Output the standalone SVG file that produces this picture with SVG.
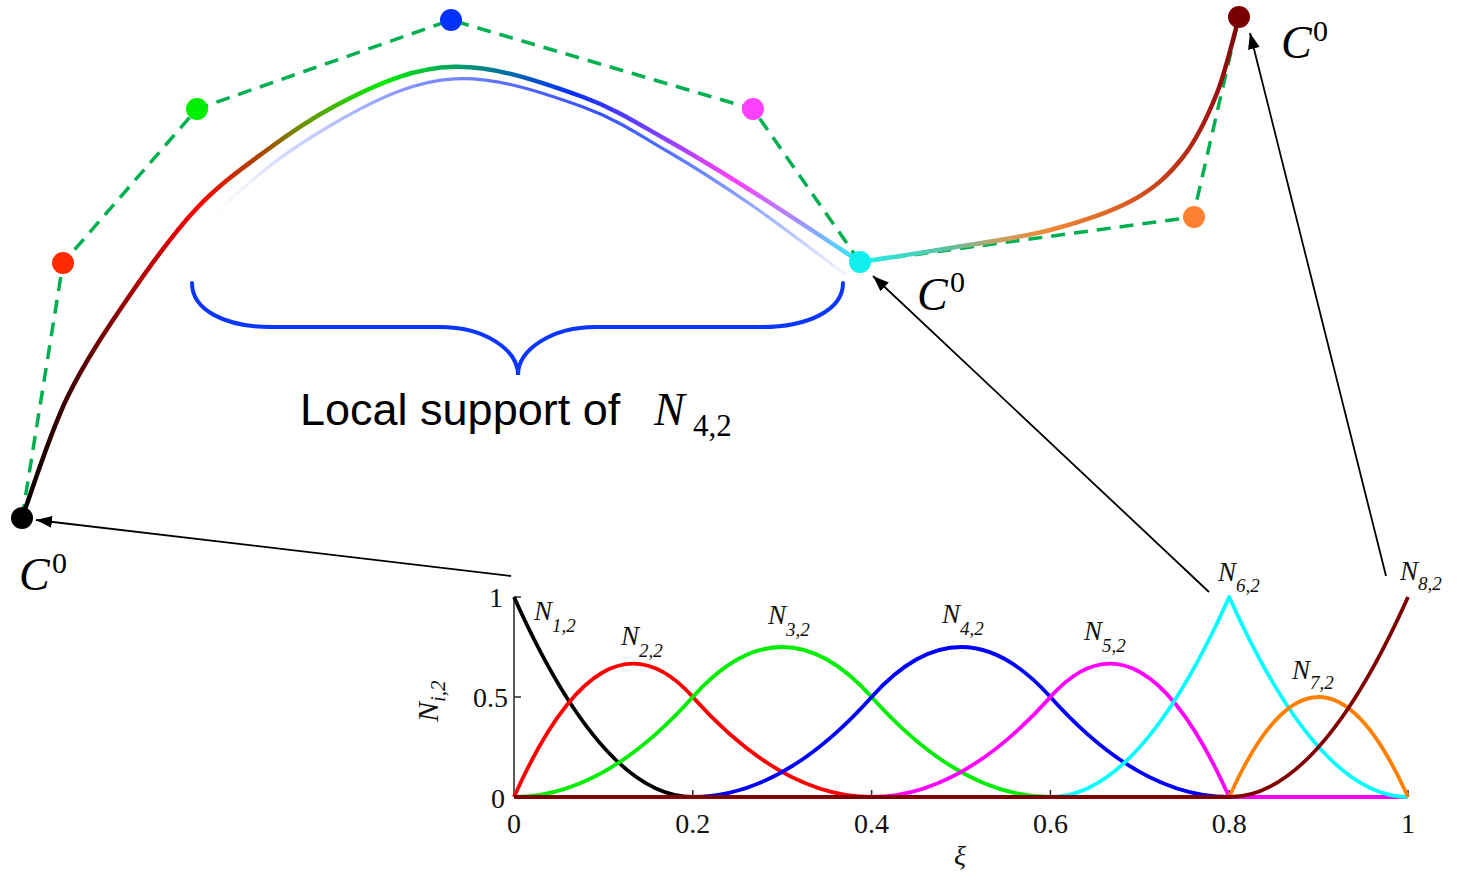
<svg xmlns="http://www.w3.org/2000/svg" width="1460" height="874" viewBox="0 0 1460 874">
<style>
.poly{fill:none;stroke:#00b050;stroke-width:3.5;stroke-dasharray:14 9}
.bf{fill:none;stroke-width:3.8;stroke-linejoin:round}
.arrow{fill:none;stroke:#000;stroke-width:1.8;marker-end:url(#ah)}
.it{font-style:italic}
.c0{font-family:"Liberation Serif","DejaVu Serif",serif;font-style:italic;font-size:46px;fill:#000}
.c0s{font-family:"Liberation Serif","DejaVu Serif",serif;font-size:30px;fill:#000}
.nl{font-family:"Liberation Serif","Times New Roman",serif;font-style:italic;font-size:27px;fill:#111}
.ns{font-size:19px}
.tick{font-family:"Liberation Serif","Times New Roman",serif;font-size:28px;fill:#111}
</style>
<defs>
<marker id="ah" viewBox="0 0 16 12" refX="16" refY="6" markerWidth="16" markerHeight="12" orient="auto" markerUnits="userSpaceOnUse">
<path d="M0,0 L16,6 L0,12 z" fill="#000"/>
</marker>
<linearGradient id="g1" gradientUnits="userSpaceOnUse" x1="22" y1="0" x2="860" y2="0">
<stop offset="0" stop-color="#000000"/>
<stop offset="0.054" stop-color="#400000"/>
<stop offset="0.129" stop-color="#a00000"/>
<stop offset="0.209" stop-color="#ff0000"/>
<stop offset="0.292" stop-color="#a05000"/>
<stop offset="0.332" stop-color="#709000"/>
<stop offset="0.431" stop-color="#00ee00"/>
<stop offset="0.499" stop-color="#00b050"/>
<stop offset="0.562" stop-color="#007a90"/>
<stop offset="0.654" stop-color="#0030ff"/>
<stop offset="0.758" stop-color="#8040ff"/>
<stop offset="0.848" stop-color="#ff40ff"/>
<stop offset="0.928" stop-color="#a090ff"/>
<stop offset="0.968" stop-color="#60c8ff"/>
<stop offset="1" stop-color="#20f0f0"/>
</linearGradient>
<linearGradient id="g2" gradientUnits="userSpaceOnUse" x1="195" y1="0" x2="845" y2="0">
<stop offset="0" stop-color="#ffffff" stop-opacity="0"/>
<stop offset="0.111" stop-color="#dde3ff"/>
<stop offset="0.212" stop-color="#b8c2ff"/>
<stop offset="0.315" stop-color="#8a98ff"/>
<stop offset="0.418" stop-color="#6f80ff"/>
<stop offset="0.531" stop-color="#4a60ff"/>
<stop offset="0.623" stop-color="#3550ff"/>
<stop offset="0.726" stop-color="#5570ff"/>
<stop offset="0.854" stop-color="#8fa5ff"/>
<stop offset="1" stop-color="#f2f4ff"/>
</linearGradient>
<linearGradient id="g3" gradientUnits="userSpaceOnUse" x1="860" y1="0" x2="1239" y2="0">
<stop offset="0" stop-color="#20f0f0"/>
<stop offset="0.237" stop-color="#60c0a0"/>
<stop offset="0.369" stop-color="#c8a060"/>
<stop offset="0.501" stop-color="#f08838"/>
<stop offset="0.72" stop-color="#d85820"/>
<stop offset="0.852" stop-color="#b83015"/>
<stop offset="0.942" stop-color="#a01010"/>
<stop offset="1" stop-color="#7a0a0a"/>
</linearGradient>
</defs>
<rect width="1460" height="874" fill="#fff"/>

<g id="control-polygon">
<polyline class="poly" points="22,518 63,263 197,109 451,20 753,109 860,262 1193,217 1239,17"/>
</g>

<g id="support-curve">
<path d="M195,232 C207,221.3 244,186 267,168 C290,150 310.8,136.8 333,124 C433,66 473,67.4 583,107 C616.3,119 639.2,134.8 667,151 C694.8,167.2 720.3,183.5 750,204 C779.7,224.5 829.2,262.3 845,274" fill="none" stroke="url(#g2)" stroke-width="3.2" stroke-linecap="round"/>
</g>

<g id="spline-curve">
<path d="M22,518 C29.5,498 49,435.2 67,398 C85,360.8 108.3,326.7 130,295 C151.7,263.3 174.2,232.2 197,208 C219.8,183.8 244.3,166.8 267,150 C289.7,133.2 310.8,119 333,107 C433,53 473,57 583,97 C616.3,109.2 639.2,124.5 667,140 C694.8,155.5 717.8,169.7 750,190 C782.2,210.3 841.7,250 860,262" fill="none" stroke="url(#g1)" stroke-width="4.5" stroke-linecap="round"/>
<path d="M860,262 C875,259.7 918.3,253.3 950,248 C981.7,242.7 1019.5,238 1050,230 C1080.5,222 1110.8,212.2 1133,200 C1155.2,187.8 1169,174.8 1183,157 C1197,139.2 1207.7,116.3 1217,93 C1226.3,69.7 1235.3,29.7 1239,17" fill="none" stroke="url(#g3)" stroke-width="4.5" stroke-linecap="round"/>
</g>

<g id="brace">
<path d="M192,283 C192,310 225,327 271,327 L440,327 C485,327 518,350 518,375 C518,350 551,327 596,327 L762,327 C808,327 843,310 843,283" fill="none" stroke="#0a36ff" stroke-width="4" stroke-linecap="round"/>
</g>

<g id="p1"><circle cx="22" cy="518" r="11" fill="#000"/></g>
<g id="p2"><circle cx="63" cy="263" r="11" fill="#ff2a00"/></g>
<g id="p3"><circle cx="197" cy="109" r="11" fill="#00ee00"/></g>
<g id="p4"><circle cx="451" cy="20" r="11" fill="#0033ff"/></g>
<g id="p5"><circle cx="753" cy="109" r="11" fill="#ff40ff"/></g>
<g id="p6"><circle cx="860" cy="262" r="11" fill="#11eeee"/></g>
<g id="p7"><circle cx="1194" cy="217" r="11" fill="#ff8030"/></g>
<g id="p8"><circle cx="1239" cy="17" r="11" fill="#780000"/></g>

<g id="label-c0-a"><text class="c0" x="19" y="590">C</text><text class="c0s" x="52" y="573">0</text></g>
<g id="label-c0-b"><text class="c0" x="917" y="310">C</text><text class="c0s" x="950" y="292">0</text></g>
<g id="label-c0-c"><text class="c0" x="1281" y="58">C</text><text class="c0s" x="1313" y="41">0</text></g>

<g id="label-support">
<text x="300" y="425" font-family="Liberation Sans, Arial, sans-serif" font-size="45" fill="#000">Local support of</text>
<text x="654" y="425" font-family="Liberation Serif, serif" font-style="italic" font-size="46" fill="#000">N</text>
<text x="693" y="436" font-family="Liberation Serif, serif" font-size="31" fill="#000">4,2</text>
</g>

<g id="plot">
<g id="axes" stroke="#333" stroke-width="1.6" fill="none">
<line x1="514" y1="597" x2="514" y2="797"/>
<line x1="514" y1="597" x2="521" y2="597"/>
<line x1="514" y1="697" x2="521" y2="697"/>
<line x1="692.8" y1="797" x2="692.8" y2="790"/>
<line x1="871.6" y1="797" x2="871.6" y2="790"/>
<line x1="1050.4" y1="797" x2="1050.4" y2="790"/>
<line x1="1229.2" y1="797" x2="1229.2" y2="790"/>
<line x1="1408" y1="797" x2="1408" y2="790"/>
</g>
<g id="basis">
<path class="bf" stroke="#000000" d="M514,597 Q603.4,797 692.8,797 L1408,797"/>
<path class="bf" stroke="#ff0000" d="M514,797 Q603.4,597 692.8,697 Q782.2,797 871.6,797 L1408,797"/>
<path class="bf" stroke="#00ee00" d="M514,797 Q603.4,797 692.8,697 Q782.2,597 871.6,697 Q961,797 1050.4,797 L1408,797"/>
<path class="bf" stroke="#0000ff" d="M514,797 L692.8,797 Q782.2,797 871.6,697 Q961,597 1050.4,697 Q1139.8,797 1229.2,797 L1408,797"/>
<path class="bf" stroke="#ff00ff" d="M514,797 L871.6,797 Q961,797 1050.4,697 Q1139.8,597 1229.2,797 L1408,797"/>
<path class="bf" stroke="#00ffff" d="M514,797 L1050.4,797 Q1139.8,797 1229.2,597 Q1318.6,797 1408,797"/>
<path class="bf" stroke="#ff8000" d="M514,797 L1229.2,797 Q1318.6,597 1408,797"/>
<path class="bf" stroke="#800000" d="M514,797 L1229.2,797 Q1318.6,797 1408,597"/>
</g>
<g id="ticklabels">
<text class="tick" x="503" y="607" text-anchor="end">1</text>
<text class="tick" x="508" y="707" text-anchor="end">0.5</text>
<text class="tick" x="505" y="808" text-anchor="end">0</text>
<text class="tick" x="514" y="833" text-anchor="middle">0</text>
<text class="tick" x="692.8" y="833" text-anchor="middle">0.2</text>
<text class="tick" x="871.6" y="833" text-anchor="middle">0.4</text>
<text class="tick" x="1050.4" y="833" text-anchor="middle">0.6</text>
<text class="tick" x="1229.2" y="833" text-anchor="middle">0.8</text>
<text class="tick" x="1408" y="833" text-anchor="middle">1</text>
<text class="tick it" x="960" y="865" text-anchor="middle">ξ</text>
<text class="nl" transform="translate(438,722) rotate(-90)" style="font-size:30px">N<tspan class="ns" dy="7" style="font-size:21px">i,2</tspan></text>
</g>
<g id="fn-labels">
<text class="nl" x="534" y="620">N<tspan class="ns" dy="12">1,2</tspan></text>
<text class="nl" x="621" y="645">N<tspan class="ns" dy="12">2,2</tspan></text>
<text class="nl" x="768" y="624">N<tspan class="ns" dy="12">3,2</tspan></text>
<text class="nl" x="942" y="623">N<tspan class="ns" dy="12">4,2</tspan></text>
<text class="nl" x="1084" y="640">N<tspan class="ns" dy="12">5,2</tspan></text>
<text class="nl" x="1218" y="581">N<tspan class="ns" dy="11">6,2</tspan></text>
<text class="nl" x="1292" y="679">N<tspan class="ns" dy="10">7,2</tspan></text>
<text class="nl" x="1400" y="580">N<tspan class="ns" dy="10">8,2</tspan></text>
</g>
</g>

<g id="connectors">
<line class="arrow" x1="511" y1="576" x2="36" y2="520"/>
<line class="arrow" x1="1209" y1="592" x2="873" y2="276"/>
<line class="arrow" x1="1386" y1="576" x2="1250" y2="33"/>
</g>
</svg>
